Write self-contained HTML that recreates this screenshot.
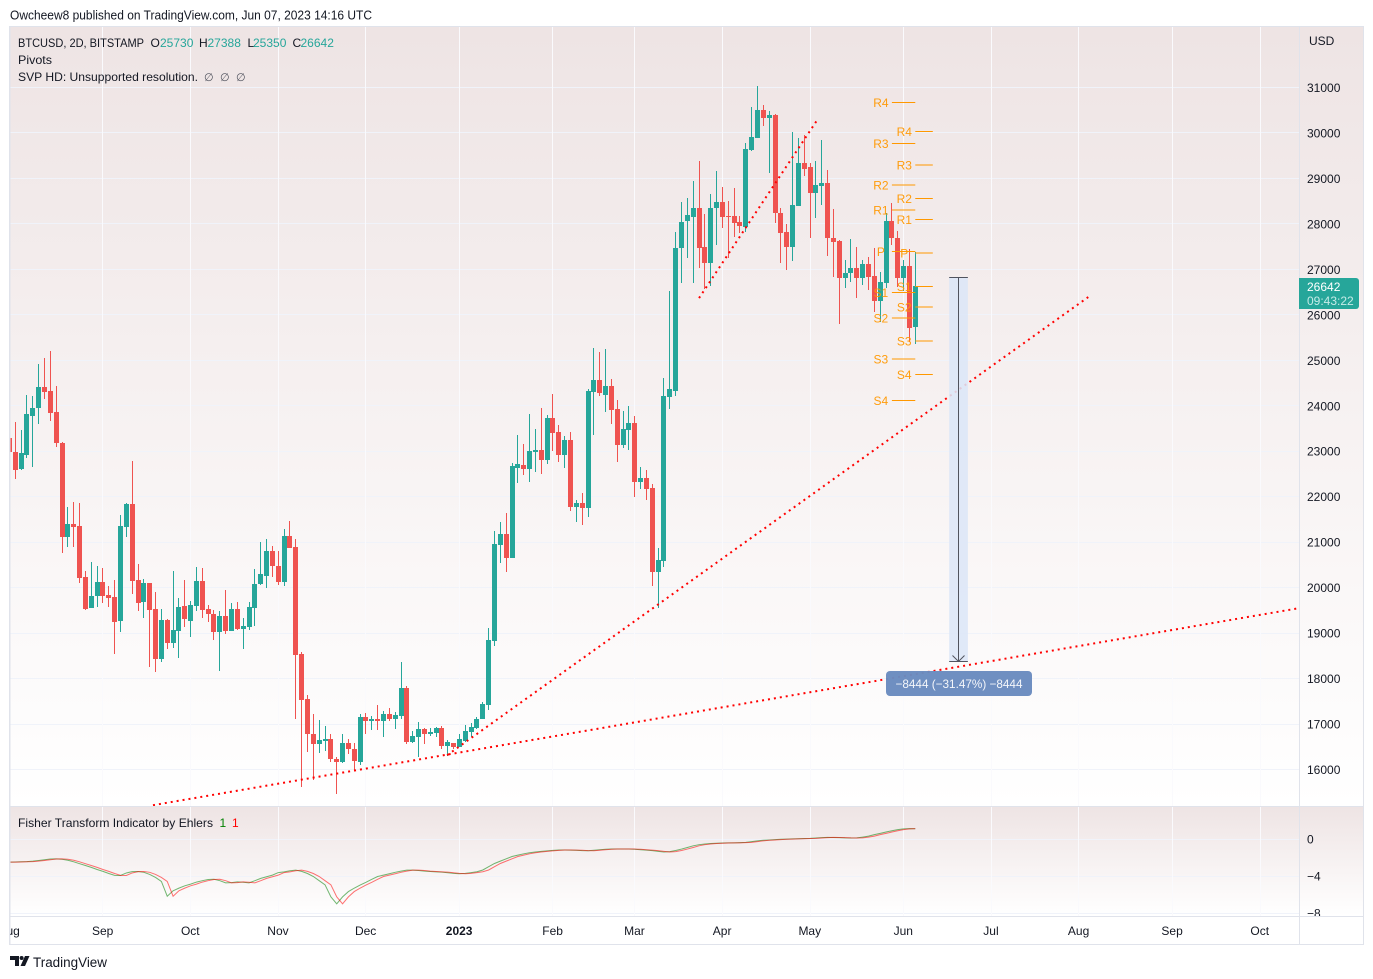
<!DOCTYPE html>
<html lang="en">
<head>
<meta charset="utf-8">
<title>BTCUSD 2D chart</title>
<style>
html,body{margin:0;padding:0;background:#fff;}
svg{display:block;font-family:"Liberation Sans",sans-serif;}
text{fill:#131722;}
</style>
</head>
<body>
<svg id="chart" xmlns="http://www.w3.org/2000/svg" width="1373" height="979" viewBox="0 0 1373 979">
  <defs>
    <linearGradient id="paneBg" x1="0" y1="0" x2="0" y2="1">
      <stop offset="0" stop-color="#eee4e4"/>
      <stop offset="1" stop-color="#ffffff"/>
    </linearGradient>
    <clipPath id="mainClip"><rect x="10" y="27" width="1289.5" height="779"/></clipPath>
    <clipPath id="fisherClip"><rect x="10" y="807" width="1289.5" height="109"/></clipPath>
    <clipPath id="fisherAxisClip"><rect x="1300" y="807" width="63" height="109"/></clipPath>
    <clipPath id="timeClip"><rect x="10" y="917" width="1289.5" height="27"/></clipPath>
  </defs>
  <rect x="0" y="0" width="1373" height="979" fill="#ffffff"/>
  <text x="10" y="19.5" font-size="13" textLength="362" lengthAdjust="spacingAndGlyphs">Owcheew8 published on TradingView.com, Jun 07, 2023 14:16 UTC</text>
  <rect x="10" y="27" width="1353" height="779" fill="url(#paneBg)"/>
  <rect x="10" y="807" width="1353" height="109" fill="url(#paneBg)"/>
  <g id="grid"></g>
  <g id="fisherLines" clip-path="url(#fisherClip)"></g>
  <g id="candles" clip-path="url(#mainClip)" shape-rendering="crispEdges"></g>
  <g id="trends" clip-path="url(#mainClip)"></g>
  <g id="pivots" clip-path="url(#mainClip)"></g>
  <g id="measure"></g>
  <g fill="#e0e3eb">
    <rect x="9" y="26" width="1355" height="1"/>
    <rect x="9" y="26" width="1.5" height="919"/>
    <rect x="1363" y="26" width="1" height="919"/>
    <rect x="9" y="944" width="1355" height="1"/>
    <rect x="10" y="806" width="1353" height="1"/>
    <rect x="10" y="916" width="1353" height="1"/>
    <rect x="1299" y="27" width="1" height="917"/>
  </g>
  <g id="priceAxis"></g>
  <g id="fisherAxis" clip-path="url(#fisherAxisClip)"></g>
  <g id="timeAxis" clip-path="url(#timeClip)"></g>
  <text x="1309" y="45" font-size="12">USD</text>
  <g>
    <path d="M1299 278H1356a3 3 0 0 1 3 3V306a3 3 0 0 1 -3 3H1299Z" fill="#26a69a"/>
    <text x="1307" y="291" font-size="12" style="fill:#ffffff">26642</text>
    <text x="1307" y="305" font-size="12" style="fill:#c6ebe7">09:43:22</text>
  </g>
  <g font-size="12">
    <text x="18" y="47" textLength="126" lengthAdjust="spacingAndGlyphs">BTCUSD, 2D, BITSTAMP</text>
    <text x="150.5" y="47">O</text>
    <text x="160" y="47" style="fill:#26a69a">25730</text>
    <text x="199" y="47">H</text>
    <text x="207.5" y="47" style="fill:#26a69a">27388</text>
    <text x="247.5" y="47">L</text>
    <text x="253" y="47" style="fill:#26a69a">25350</text>
    <text x="292.5" y="47">C</text>
    <text x="300.5" y="47" style="fill:#26a69a">26642</text>
    <text x="18" y="64" textLength="34" lengthAdjust="spacingAndGlyphs">Pivots</text>
    <text x="18" y="81" textLength="180" lengthAdjust="spacingAndGlyphs">SVP HD: Unsupported resolution.</text>
    <text x="204" y="81" style="fill:#50535e;font-family:'DejaVu Sans',sans-serif" font-size="11">∅</text>
    <text x="220" y="81" style="fill:#50535e;font-family:'DejaVu Sans',sans-serif" font-size="11">∅</text>
    <text x="236" y="81" style="fill:#50535e;font-family:'DejaVu Sans',sans-serif" font-size="11">∅</text>
  </g>
  <g font-size="12">
    <text x="18" y="827" textLength="195" lengthAdjust="spacingAndGlyphs">Fisher Transform Indicator by Ehlers</text>
    <text x="219.5" y="827" style="fill:#008000">1</text>
    <text x="232" y="827" style="fill:#ff0000">1</text>
  </g>
  <g fill="#131722">
    <path d="M10 956H19V966H15V960H10Z"/>
    <circle cx="21.6" cy="958" r="2"/>
    <path d="M25 956H29.5L25 966H20.5Z"/>
  </g>
  <text x="33" y="967" font-size="13.5" textLength="74" lengthAdjust="spacingAndGlyphs">TradingView</text>
</svg>
<script>
// Candles: one entry per 2-day bar, oldest first (prices in USD)
const opens = [
23290,22980,22620,22920,23780,23940,24410,24320,23860,23180,
21120,21400,21350,20230,19560,19820,20120,19840,19790,19270,
21340,21840,20170,19690,20100,19530,18440,19290,18790,19050,
19600,19270,19600,20150,19530,19420,19030,19380,19050,19530,
19100,19140,19560,20070,20260,20810,20480,20130,21140,20890,
18540,17550,16780,16570,16630,16670,16230,16170,16580,16450,
16170,17150,17070,17110,17070,17220,17100,17180,17790,16610,
16720,16890,16790,16810,16910,16520,16580,16500,16630,16830,
16920,17100,17420,18830,20940,21180,20660,22630,22700,22620,
22980,23030,22810,23730,23420,22920,23250,21780,21860,21760,
24310,24570,24240,24430,23930,23130,23470,23620,22330,22410,
22190,20350,20590,24200,24330,27460,28070,28160,28350,27490,
27130,28340,28480,28170,28170,28040,27940,29630,29900,30500,
30320,30400,28240,27820,27500,28400,29340,29250,28670,28840,
28900,27690,27620,26800,26910,27030,26800,27120,26860,26310,
26710,28060,27690,26800,27080,25730];
const highs = [
23400,23640,23470,24240,24210,24920,25050,25200,24430,23200,
21770,21880,21860,20370,20560,20480,20430,20040,20170,21600,
21860,22780,20520,20190,20100,19900,19530,19310,20370,19770,
20170,19710,20450,20430,19620,19510,19490,19950,19660,19680,
19330,19680,20410,21000,21070,20920,20810,21290,21470,21070,
18580,17640,17220,17090,16950,16780,16270,16780,16670,16580,
17220,17240,17180,17420,17290,17350,17260,18360,17840,16850,
17040,16910,16910,16930,16960,16650,16580,16780,16980,17020,
17150,17480,19110,21240,21440,21640,22740,23360,23160,23820,
23490,23950,23800,24260,23580,23330,23420,21930,22080,24370,
25270,25180,25250,24590,24130,23890,23990,23770,22650,22590,
22280,20870,24610,26530,27820,28480,28570,28940,29380,28220,
28660,29160,28810,28500,28790,28170,29780,30570,31030,30620,
30480,30420,28350,28000,30020,29890,29960,29340,29380,29850,
29190,28330,27650,27210,27670,27490,27210,27270,27470,26940,
28240,28460,27840,27210,27450,27388];
const lows = [
22700,22400,22590,22860,22660,23600,24150,23670,23100,20770,
20900,20900,20110,19510,19560,19580,19670,19580,18550,19030,
21120,19870,19490,19340,18260,18150,18370,18640,18680,18460,
19140,18920,19490,19340,19250,18850,18170,18990,19050,19070,
18660,19070,19160,20060,20000,20240,20060,20040,20880,17120,
15620,16390,15780,16370,16410,16170,15470,16150,16350,16000,
16110,16790,16870,16870,16720,17070,16880,17100,16570,16590,
16280,16570,16740,16720,16460,16300,16460,16490,16600,16720,
16900,17100,17310,18720,20550,20350,20650,22310,22480,22330,
22550,22510,22730,23010,22770,22640,21690,21450,21380,21560,
23360,24220,23870,23600,22770,23080,23030,22000,22180,21930,
20040,19560,20460,23930,24220,26710,27240,26690,27040,26560,
26640,27540,27900,27240,27720,27810,27830,29610,29900,30160,
29130,28010,27150,26990,27190,28390,29060,27680,28140,28420,
27300,26840,25800,26600,26730,26380,26660,26550,26070,25850,
26580,27540,26620,26530,25410,25350];
const closes = [
22990,22590,22960,23820,23950,24410,24310,23850,23190,21120,
21400,21340,20220,19540,19820,20120,19820,19780,19250,21350,
21840,20150,19670,20100,19510,18440,19290,18790,19070,19570,
19300,19620,20150,19510,19430,19030,19380,19050,19530,19100,
19160,19570,20080,20300,20810,20480,20130,21140,20880,18520,
17530,16770,16570,16650,16670,16240,16170,16580,16440,16190,
17150,17070,17110,17070,17220,17100,17200,17790,16610,16740,
16890,16790,16820,16910,16520,16600,16490,16670,16840,16930,
17110,17440,18850,20960,21180,20660,22670,22720,22620,23000,
23030,22810,23730,23410,22920,23250,21780,21860,21760,24320,
24570,24270,24430,23910,23140,23490,23620,22330,22410,22180,
20350,20610,24210,24370,27470,28040,28200,28350,27480,27130,
28350,28480,28160,28160,28030,27960,29650,29910,30500,30320,
30400,28230,27810,27500,28420,29340,29210,28670,28860,28900,
27680,27600,26800,26920,27030,26800,27120,26840,26310,26720,
28060,27700,26820,27080,25720,26642];

// Fisher Transform values per bar
const fisherValues = [
-2.45,-2.44,-2.42,-2.40,-2.35,-2.28,-2.20,-2.12,-2.10,-2.14,
-2.25,-2.42,-2.62,-2.82,-3.02,-3.25,-3.45,-3.68,-3.88,-3.89,
-3.62,-3.48,-3.46,-3.55,-3.78,-4.10,-4.53,-6.12,-5.54,-5.25,
-5.00,-4.82,-4.60,-4.45,-4.32,-4.30,-4.45,-4.68,-4.66,-4.58,
-4.62,-4.68,-4.45,-4.20,-4.03,-3.85,-3.58,-3.50,-3.38,-3.31,
-3.45,-3.68,-4.00,-4.45,-4.89,-6.19,-6.94,-6.19,-5.62,-5.25,
-4.92,-4.62,-4.30,-4.00,-3.85,-3.70,-3.55,-3.42,-3.32,-3.31,
-3.36,-3.42,-3.46,-3.50,-3.53,-3.60,-3.67,-3.71,-3.66,-3.58,
-3.49,-3.30,-2.95,-2.60,-2.35,-2.10,-1.85,-1.70,-1.56,-1.45,
-1.37,-1.30,-1.24,-1.19,-1.15,-1.15,-1.16,-1.18,-1.22,-1.23,
-1.18,-1.12,-1.07,-1.05,-1.04,-1.04,-1.05,-1.07,-1.12,-1.17,
-1.22,-1.30,-1.37,-1.32,-1.20,-1.05,-0.88,-0.70,-0.58,-0.50,
-0.45,-0.42,-0.40,-0.39,-0.38,-0.36,-0.33,-0.25,-0.17,-0.10,
-0.07,-0.03,0.00,0.02,0.04,0.06,0.08,0.10,0.14,0.18,
0.21,0.20,0.18,0.15,0.14,0.15,0.24,0.34,0.50,0.64,
0.78,0.92,1.04,1.12,1.15,1.13];
const triggerValues = [
-2.46,-2.45,-2.44,-2.42,-2.40,-2.35,-2.28,-2.20,-2.12,-2.10,
-2.14,-2.25,-2.42,-2.62,-2.82,-3.02,-3.25,-3.45,-3.68,-3.88,
-3.89,-3.62,-3.48,-3.46,-3.55,-3.78,-4.10,-4.53,-6.12,-5.54,
-5.25,-5.00,-4.82,-4.60,-4.45,-4.32,-4.30,-4.45,-4.68,-4.66,
-4.58,-4.62,-4.68,-4.45,-4.20,-4.03,-3.85,-3.58,-3.50,-3.38,
-3.31,-3.45,-3.68,-4.00,-4.45,-4.89,-6.19,-6.94,-6.19,-5.62,
-5.25,-4.92,-4.62,-4.30,-4.00,-3.85,-3.70,-3.55,-3.42,-3.32,
-3.31,-3.36,-3.42,-3.46,-3.50,-3.53,-3.60,-3.67,-3.71,-3.66,
-3.58,-3.49,-3.30,-2.95,-2.60,-2.35,-2.10,-1.85,-1.70,-1.56,
-1.45,-1.37,-1.30,-1.24,-1.19,-1.15,-1.15,-1.16,-1.18,-1.22,
-1.23,-1.18,-1.12,-1.07,-1.05,-1.04,-1.04,-1.05,-1.07,-1.12,
-1.17,-1.22,-1.30,-1.37,-1.32,-1.20,-1.05,-0.88,-0.70,-0.58,
-0.50,-0.45,-0.42,-0.40,-0.39,-0.38,-0.36,-0.33,-0.25,-0.17,
-0.10,-0.07,-0.03,0.00,0.02,0.04,0.06,0.08,0.10,0.14,
0.18,0.21,0.20,0.18,0.15,0.14,0.15,0.24,0.34,0.50,
0.64,0.78,0.92,1.04,1.12,1.15];

// Axis ticks
const priceTicks = [16000,17000,18000,19000,20000,21000,22000,23000,24000,25000,26000,27000,28000,29000,30000,31000];
const fisherTicks = [0,-4,-8];
const timeLabels = ['Aug','Sep','Oct','Nov','Dec','2023','Feb','Mar','Apr','May','Jun','Jul','Aug','Sep','Oct'];
const timeTickBars = [0,16,31,46,61,77,93,107,122,137,153,168,183,199,214];

// Pivot levels
const pivotNames = ['R4','R3','R2','R1','P','S1','S2','S3','S4'];
const pivotsPrevious = [30670,29768,28856,28306,27393,26491,25930,25029,24116];
const pivotsCurrent = [30032,29295,28559,28097,27360,26623,26172,25425,24688];
const pivotPreviousBars = [151,155];
const pivotCurrentBars = [155,158];

// Drawings, anchored as [bar, price]
const trendLong = [[24.56,15215],[220.7,19549]];
const trendMid = [[74.9,16315],[184.6,26391]];
const trendShort = [[118,26369],[138.4,30320]];
const measureBars = [160.8,164];
const measurePrices = [26820,18376];

// Scales
function xOfBar(i){ return 15.3 + (i-1)*5.844; }
function yOfPrice(p){ return 87.5 + (31000-p)*0.045467; }
function yOfFisher(v){ return 839.3 - v*9.3; }

const NS = 'http://www.w3.org/2000/svg';
function make(tag, attrs, parent){
  const node = document.createElementNS(NS, tag);
  for (const k in attrs) node.setAttribute(k, attrs[k]);
  parent.appendChild(node);
  return node;
}

// Grid
const grid = document.getElementById('grid');
priceTicks.forEach(function(p){
  const line = make('rect', {x:10, y:Math.floor(yOfPrice(p)), width:1289, height:1, fill:'#f0f3fa'}, grid);
  
  
});
fisherTicks.forEach(function(v){
  const line = make('rect', {x:10, y:Math.floor(yOfFisher(v)), width:1289, height:1, fill:'#f0f3fa'}, grid);
  
  
});
timeTickBars.forEach(function(b){
  if (b === 0) return;
  const x = Math.floor(xOfBar(b));
  const a = make('rect', {x:x, y:27, width:1, height:779, fill:'#fafafd'}, grid);
  
  
  const f = make('rect', {x:x, y:807, width:1, height:109, fill:'#fafafd'}, grid);
  
  
});

// Candles
const candles = document.getElementById('candles');
opens.forEach(function(o, i){
  const c = closes[i];
  const up = c >= o;
  const color = up ? '#26a69a' : '#ef5350';
  const cx = Math.floor(xOfBar(i));
  const yHigh = Math.round(yOfPrice(highs[i]));
  const yLow = Math.round(yOfPrice(lows[i]));
  const yTop = Math.round(yOfPrice(Math.max(o, c)));
  const yBot = Math.round(yOfPrice(Math.min(o, c)));
  const wick = make('rect', {x:cx, y:yHigh, width:1, height:Math.max(1, yLow-yHigh), fill:color}, candles);
  
  
  const body = make('rect', {x:cx-2, y:yTop, width:5, height:Math.max(1, yBot-yTop), fill:color}, candles);
  
  
});

// Fisher lines
function seriesPath(values){
  return values.map(function(v, i){ return (i ? 'L' : 'M') + xOfBar(i).toFixed(2) + ' ' + yOfFisher(v).toFixed(2); }).join('');
}
const fisherGroup = document.getElementById('fisherLines');
const fisherPath = make('path', {d:seriesPath(fisherValues), fill:'none', stroke:'#008000', 'stroke-width':1, 'stroke-opacity':0.55}, fisherGroup);


const triggerPath = make('path', {d:seriesPath(triggerValues), fill:'none', stroke:'#ff0000', 'stroke-width':1, 'stroke-opacity':0.55}, fisherGroup);



// Trend lines
const trends = document.getElementById('trends');
function addTrend(pts){
  return make('line', {
    x1:xOfBar(pts[0][0]), y1:yOfPrice(pts[0][1]),
    x2:xOfBar(pts[1][0]), y2:yOfPrice(pts[1][1]),
    stroke:'#ff0000', 'stroke-width':2, 'stroke-dasharray':'2 4'
  }, trends);
}
const t1 = addTrend(trendLong);


const t2 = addTrend(trendMid);


const t3 = addTrend(trendShort);



// Pivots
const pivots = document.getElementById('pivots');
function addPivotSet(values, bars){
  values.forEach(function(p, i){
    const y = yOfPrice(p);
    const x1 = xOfBar(bars[0]);
    const x2 = xOfBar(bars[1]);
    const line = make('line', {x1:x1, y1:y, x2:x2, y2:y, stroke:'#ff9800', 'stroke-width':1}, pivots);
    
    
    const label = make('text', {x:x1-11, y:y+4.5, 'text-anchor':'middle', 'font-size':'12'}, pivots);
    label.setAttribute('style', 'fill:#ff9800;fill-opacity:.95');
    
    
    label.textContent = pivotNames[i];
  });
}
addPivotSet(pivotsPrevious, pivotPreviousBars);
addPivotSet(pivotsCurrent, pivotCurrentBars);

// Measure tool
const measure = document.getElementById('measure');
const mx1 = xOfBar(measureBars[0]);
const mx2 = xOfBar(measureBars[1]);
const mxc = Math.floor((mx1+mx2)/2) + 0.5;
const myTop = yOfPrice(measurePrices[0]);
const myBot = yOfPrice(measurePrices[1]);
const mBox = make('rect', {x:mx1, y:myTop, width:mx2-mx1, height:myBot-myTop, fill:'#dce6f7', 'fill-opacity':0.88}, measure);


const mLine = make('line', {x1:mxc, y1:myTop, x2:mxc, y2:myBot, stroke:'#50535e', 'stroke-width':1}, measure);


const mTop = make('line', {x1:mx1, y1:myTop, x2:mx2, y2:myTop, stroke:'#50535e', 'stroke-width':1}, measure);


const mBot = make('line', {x1:mx1, y1:myBot, x2:mx2, y2:myBot, stroke:'#50535e', 'stroke-width':1}, measure);


const mArrow = make('path', {d:'M'+(mxc-6)+' '+(myBot-6)+'L'+mxc+' '+myBot+'L'+(mxc+6)+' '+(myBot-6), fill:'none', stroke:'#50535e', 'stroke-width':1}, measure);


const mLabelBox = make('rect', {x:886, y:671, width:146, height:25, rx:4, fill:'#6a8bbf', 'fill-opacity':0.97}, measure);


const mLabel = make('text', {x:959, y:688, 'text-anchor':'middle', 'font-size':'12', textLength:'127', lengthAdjust:'spacingAndGlyphs'}, measure);
mLabel.setAttribute('style', 'fill:#ffffff;fill-opacity:.92');


mLabel.textContent = '\u22128444 (\u221231.47%) \u22128444';

// Axis labels
const priceAxis = document.getElementById('priceAxis');
priceTicks.forEach(function(p){
  const t = make('text', {x:1307, y:yOfPrice(p)+4.5, 'font-size':'12'}, priceAxis);
  
  
  t.textContent = String(p);
});
const fisherAxis = document.getElementById('fisherAxis');
fisherTicks.forEach(function(v){
  const t = make('text', {x:1307, y:yOfFisher(v)+4, 'font-size':'12'}, fisherAxis);
  
  
  t.textContent = v < 0 ? '\u2212' + Math.abs(v) : String(v);
});
const timeAxis = document.getElementById('timeAxis');
timeLabels.forEach(function(label, i){
  const t = make('text', {x:xOfBar(timeTickBars[i])-0.3, y:935, 'text-anchor':'middle', 'font-size':'12'}, timeAxis);
  if (label === '2023') t.setAttribute('font-weight', 'bold');
  
  
  t.textContent = label;
});
</script>
</body>
</html>
